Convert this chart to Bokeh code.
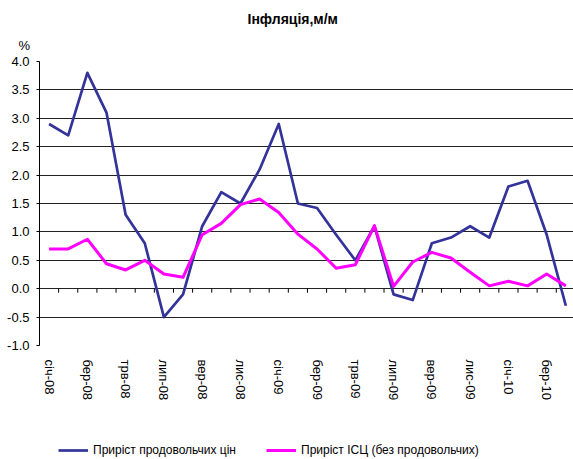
from bokeh.plotting import figure
from bokeh.layouts import column
from bokeh.models import (FixedTicker, LinearAxis, Range1d, NumeralTickFormatter,
                          Title, Legend, LegendItem, ColumnDataSource)
from bokeh.embed import file_html
from bokeh.resources import INLINE

# ---- data ----
months = ["січ-08", "лют-08", "бер-08", "квіт-08", "трв-08", "черв-08", "лип-08", "серп-08",
          "вер-08", "жовт-08", "лис-08", "груд-08", "січ-09", "лют-09", "бер-09", "квіт-09",
          "трв-09", "черв-09", "лип-09", "серп-09", "вер-09", "жовт-09", "лис-09", "груд-09",
          "січ-10", "лют-10", "бер-10", "квіт-10"]
food = [2.9, 2.7, 3.8, 3.1, 1.3, 0.8, -0.5, -0.1, 1.1, 1.7, 1.5, 2.1, 2.9, 1.5,
        1.42, 0.95, 0.5, 1.1, -0.1, -0.2, 0.8, 0.9, 1.1, 0.9, 1.8, 1.9, 0.95, -0.3]
cpi_nonfood = [0.7, 0.7, 0.87, 0.44, 0.33, 0.5, 0.26, 0.2, 0.95, 1.15, 1.48, 1.58, 1.34, 0.96,
               0.7, 0.36, 0.42, 1.11, 0.04, 0.47, 0.64, 0.54, 0.29, 0.05, 0.13, 0.05, 0.26, 0.05]
y_ticks = [-1.0, -0.5, 0.0, 0.5, 1.0, 1.5, 2.0, 2.5, 3.0, 3.5, 4.0]
title_text = "Інфляція,м/м"
unit_text = "%"
series_names = ["Приріст продовольчих цін", "Приріст ІСЦ (без продовольчих)"]
series_colors = ["#333399", "#FF00FF"]

idx = list(range(len(months)))
src = ColumnDataSource(dict(x=idx, food=food, cpi=cpi_nonfood))
bounds = [i + 0.5 for i in idx[:-1]]

FONT = "Liberation Sans"

p = figure(width=573, height=441, output_backend="svg", toolbar_location=None,
           x_range=Range1d(-0.5, 27.4), y_range=Range1d(-1.0, 4.0),
           x_axis_location=None, y_axis_location=None,
           min_border_left=39, min_border_right=0, min_border_top=61, min_border_bottom=96)
p.outline_line_color = None
p.background_fill_color = "white"
p.border_fill_color = "white"

# y axis
yax = LinearAxis(ticker=FixedTicker(ticks=y_ticks), formatter=NumeralTickFormatter(format="0.0"))
yax.axis_line_color = "black"
yax.major_tick_line_color = "black"
yax.major_tick_out = 3
yax.major_tick_in = 0
yax.minor_tick_line_color = None
yax.major_label_standoff = 7
yax.major_label_text_font = FONT
yax.major_label_text_font_size = "13px"
yax.major_label_text_color = "black"
p.add_layout(yax, "left")

# x axis with category labels (every second month)
even = idx[::2]
xax = LinearAxis(ticker=FixedTicker(ticks=even),
                 major_label_overrides={i: months[i] for i in even})
xax.axis_line_color = None
xax.major_tick_line_color = None
xax.minor_tick_line_color = None
xax.major_tick_out = 0
xax.major_tick_in = 0
xax.major_label_orientation = "vertical"
xax.major_label_standoff = 14
xax.major_label_text_font = FONT
xax.major_label_text_font_size = "13px"
xax.major_label_text_color = "black"
p.add_layout(xax, "below")

# unit and title
p.add_layout(Title(text=unit_text, align="left", offset=-21, standoff=18,
                   text_font=FONT, text_font_size="13px", text_font_style="normal",
                   text_color="black"), "above")
p.add_layout(Title(text=title_text, align="left", offset=208, standoff=0,
                   text_font=FONT, text_font_size="14px", text_font_style="bold",
                   text_color="black"), "above")

# grid
p.ygrid.ticker = FixedTicker(ticks=y_ticks)
p.ygrid.grid_line_color = "#222222"
p.ygrid.grid_line_width = 1
p.xgrid.grid_line_color = None

# category boundary ticks hanging from the zero line
p.segment(x0=bounds, y0=[0.0] * len(bounds), x1=bounds, y1=[-0.07] * len(bounds),
          line_color="black", line_width=1)

p.line("x", "food", source=src, line_color=series_colors[0], line_width=2.7, line_join="round")
p.line("x", "cpi", source=src, line_color=series_colors[1], line_width=3, line_join="round")

# legend strip below the chart (series drawn outside its visible range, keys only)
pl = figure(width=573, height=18, output_backend="svg", toolbar_location=None,
            x_range=Range1d(-0.5, 27.4), y_range=Range1d(100, 101),
            x_axis_location=None, y_axis_location=None,
            min_border_left=0, min_border_right=0, min_border_top=0, min_border_bottom=0)
pl.outline_line_color = None
pl.xgrid.grid_line_color = None
pl.ygrid.grid_line_color = None
k1 = pl.line("x", "food", source=src, line_color=series_colors[0], line_width=2.7)
k2 = pl.line("x", "cpi", source=src, line_color=series_colors[1], line_width=3)

legend = Legend(items=[LegendItem(label=series_names[0], renderers=[k1]),
                       LegendItem(label=series_names[1], renderers=[k2])],
                orientation="horizontal", location=(19, 2))
legend.label_text_font = FONT
legend.label_text_font_size = "12px"
legend.label_text_color = "black"
legend.glyph_width = 30
legend.glyph_height = 12
legend.label_height = 12
legend.label_standoff = 5
legend.spacing = 30
legend.padding = 0
legend.margin = 0
legend.border_line_color = None
legend.background_fill_alpha = 0
pl.add_layout(legend, "center")

open("out.html", "w").write(file_html(column(p, pl, spacing=0), INLINE))
